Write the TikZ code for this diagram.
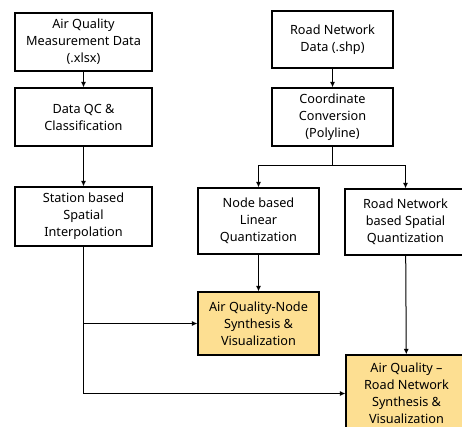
\documentclass[tikz,border=0pt]{standalone}
\usepackage{fontspec}
\setmainfont{Noto Sans}
\usetikzlibrary{arrows.meta}
\definecolor{boxyellow}{RGB}{253,223,146}
\begin{document}
\begin{tikzpicture}[x=1pt, y=-1pt,
    box/.style={draw, line width=1.2pt, align=center, inner sep=0pt, font=\fontsize{12.7}{17}\selectfont},
    hibox/.style={box, fill=boxyellow},
    arr/.style={line width=1pt, -{Latex[length=5.5pt,width=5pt]}}]
    \useasboundingbox (0,0) rectangle (462,427);
    \clip (0,0) rectangle (462,427);
    \node[box, minimum width=137pt, minimum height=58pt] (aqdata) at (83.5,42) {Air Quality\\Measurement Data\\(.xlsx)};
    \node[box, minimum width=137pt, minimum height=58pt] (dataqc) at (83.5,117) {Data QC \&\\Classification};
    \node[box, minimum width=137pt, minimum height=59pt] (station) at (83.5,216.5) {Station based\\Spatial\\Interpolation};
    \node[box, minimum width=121pt, minimum height=57pt] (roaddata) at (332.5,39.5) {Road Network\\Data (.shp)};
    \node[box, minimum width=121pt, minimum height=58pt] (coordconv) at (332.5,117) {Coordinate\\Conversion\\(Polyline)};
    \node[box, minimum width=121pt, minimum height=66pt] (nodelin) at (258.5,221) {Node based\\Linear\\Quantization};
    \node[box, minimum width=121pt, minimum height=66pt] (roadquant) at (405.5,222) {Road Network\\based Spatial\\Quantization};
    \node[hibox, minimum width=121pt, minimum height=63pt] (aqnode) at (258.5,323.5) {Air Quality-Node\\Synthesis \&\\Visualization};
    \node[hibox, minimum width=121pt, minimum height=77pt] (aqroad) at (406.5,393.5) {Air Quality --\\Road Network\\Synthesis \&\\Visualization};
    \coordinate (split) at (332.5,166);
    \coordinate (tap) at (station.south |- aqnode.west);
    \draw[arr] (aqdata) -- (dataqc);
    \draw[arr] (dataqc) -- (station);
    \draw[arr] (roaddata) -- (coordconv);
    \draw[line width=1pt] (coordconv) -- (split);
    \draw[arr] (split) -| (nodelin);
    \draw[arr] (split) -| (roadquant);
    \draw[arr] (nodelin) -- (aqnode);
    \draw[arr] (roadquant) -- (aqroad);
    \draw[arr] (station) |- (aqroad);
    \draw[arr] (tap) -- (aqnode);
  \end{tikzpicture}
\end{document}
